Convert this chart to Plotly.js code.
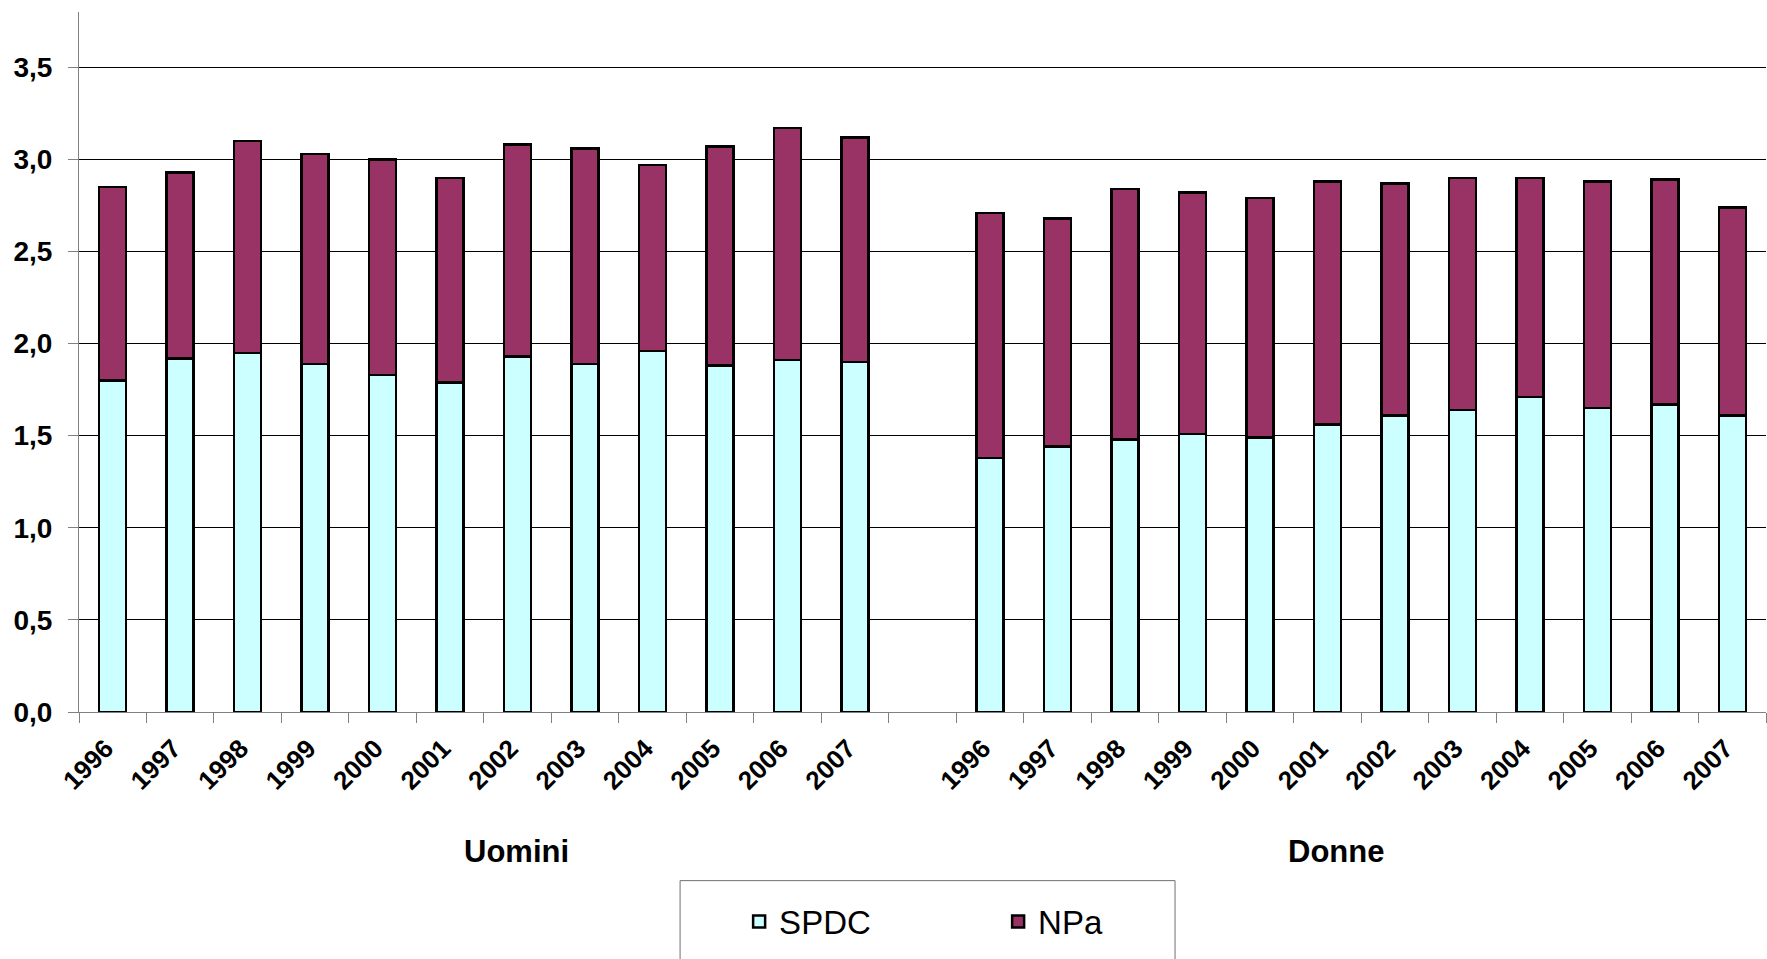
<!DOCTYPE html>
<html>
<head>
<meta charset="utf-8">
<script src="https://cdn.plot.ly/plotly-3.0.1.min.js"></script>
<style>
  html, body { margin: 0; padding: 0; background: #ffffff; }
  #chart { width: 1767px; height: 959px; }
</style>
</head>
<body>
<div id="chart"></div>
<script>
// ---- data ----
const years = ['1996','1997','1998','1999','2000','2001','2002','2003','2004','2005','2006','2007'];
const groups = ['Uomini', 'Donne'];
const seriesNames = ['SPDC', 'NPa'];

const spdcUomini = [1.80, 1.92, 1.95, 1.89, 1.83, 1.79, 1.93, 1.89, 1.96, 1.88, 1.91, 1.90];
const npaUomini  = [1.05, 1.01, 1.15, 1.14, 1.17, 1.11, 1.15, 1.17, 1.01, 1.19, 1.26, 1.22];
const spdcDonne  = [1.38, 1.44, 1.48, 1.51, 1.49, 1.56, 1.61, 1.64, 1.71, 1.65, 1.67, 1.61];
const npaDonne   = [1.33, 1.24, 1.36, 1.31, 1.30, 1.32, 1.26, 1.26, 1.19, 1.23, 1.22, 1.13];

// ---- positions on the category scale (one empty slot between the groups) ----
const n = years.length;
const xU = years.map((_, i) => i);
const xD = years.map((_, i) => i + n + 1);
const xAll = xU.concat(xD);
const tickLabels = years.concat(years);

const FONT = 'Liberation Sans, Arial, sans-serif';

const traces = [
  {
    type: 'bar', name: seriesNames[0],
    x: xAll, y: spdcUomini.concat(spdcDonne),
    width: 0.4,
    marker: { color: '#CCFFFF', line: { color: '#000000', width: 2.5 } },
    hoverinfo: 'y'
  },
  {
    type: 'bar', name: seriesNames[1],
    x: xAll, y: npaUomini.concat(npaDonne),
    width: 0.4,
    marker: { color: '#993366', line: { color: '#000000', width: 2.5 } },
    hoverinfo: 'y'
  }
];

const layout = {
  width: 1767, height: 959,
  paper_bgcolor: '#ffffff', plot_bgcolor: '#ffffff',
  margin: { l: 79, r: 1, t: 12, b: 247 },
  barmode: 'stack',
  separators: ',.',
  font: { family: FONT, color: '#000000' },
  showlegend: true,
  legend: {
    orientation: 'h', traceorder: 'normal',
    x: 0.3913, xanchor: 'left', y: -0.2995, yanchor: 'middle',
    font: { family: FONT, size: 33, color: '#000000' },
    entrywidth: 214, entrywidthmode: 'pixels',
    bgcolor: 'rgba(0,0,0,0)', borderwidth: 0
  },
  xaxis: {
    type: 'linear',
    range: [-0.5, 2 * n + 0.5],
    tickmode: 'array', tickvals: xAll, ticktext: tickLabels,
    tickangle: -45,
    ticks: '', showgrid: false, zeroline: false,
    showline: true, linecolor: '#808080', linewidth: 1,
    tickfont: { family: FONT, size: 26, color: '#000000', weight: 'bold' },
    ticklabelshift: -7, ticklabelstandoff: 10,
    minor: { tickmode: 'linear', tick0: -0.5, dtick: 1, ticks: 'outside', ticklen: 10, tickcolor: '#808080', tickwidth: 1, showgrid: false },
    automargin: false, fixedrange: true
  },
  yaxis: {
    range: [0, 3.8],
    tickmode: 'linear', tick0: 0, dtick: 0.5,
    tickformat: '.1f',
    ticks: 'outside', ticklen: 10, tickcolor: '#808080', tickwidth: 1,
    showgrid: true, gridcolor: '#000000', gridwidth: 1,
    zeroline: false,
    showline: true, linecolor: '#808080', linewidth: 1,
    tickfont: { family: FONT, size: 28, color: '#000000', weight: 'bold' },
    ticklabelstandoff: 10,
    automargin: false, fixedrange: true
  },
  annotations: [
    { text: groups[0], xref: 'paper', yref: 'paper', x: 0.2596, y: -0.199, xanchor: 'center', yanchor: 'middle', showarrow: false,
      font: { family: FONT, size: 31, color: '#000000', weight: 'bold' } },
    { text: groups[1], xref: 'paper', yref: 'paper', x: 0.745, y: -0.199, xanchor: 'center', yanchor: 'middle', showarrow: false,
      font: { family: FONT, size: 31, color: '#000000', weight: 'bold' } }
  ],
  shapes: [
    { type: 'rect', xref: 'paper', yref: 'paper', x0: 0.3563, x1: 0.6497, y0: -0.2409, y1: -0.42,
      line: { color: '#707070', width: 1 }, fillcolor: 'rgba(0,0,0,0)', layer: 'below' }
  ]
};

Plotly.newPlot('chart', traces, layout, { displayModeBar: false, staticPlot: true });
</script>
</body>
</html>
